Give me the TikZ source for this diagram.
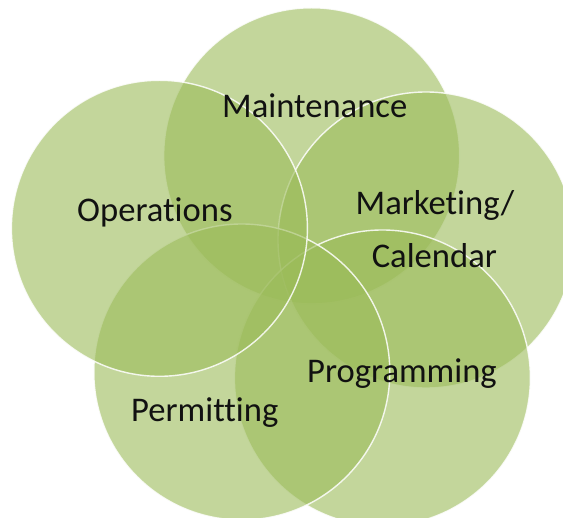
\documentclass[tikz,border=0pt]{standalone}
\usepackage{fontspec}
\setmainfont[Ligatures={NoCommon,NoContextual}]{Carlito}
\definecolor{olive}{HTML}{9BBB59}
\definecolor{txt}{HTML}{111111}
\tikzset{
  venn/.style={circle, minimum size=296pt, inner sep=0pt, fill=olive, fill opacity=0.6, draw=white, draw opacity=0.85, line width=1.4pt},
  lbl/.style={anchor=base west, inner sep=0pt, text=txt, font=\fontsize{34.6}{40}\selectfont}
}
\begin{document}
\begin{tikzpicture}[x=1pt,y=-1pt]
\useasboundingbox (0,0) rectangle (563,518);
\begin{scope}
\clip (0,0) rectangle (563,518);
\node[venn] (maint) at (311.7,155.8) {};
\node[venn] (mark) at (426,240) {};
\node[venn] (prog) at (382.4,378) {};
\node[venn] (perm) at (241.8,372) {};
\node[venn] (oper) at (159.4,228.3) {};
\end{scope}
\node[lbl] (tmaint) at (222,118) {Maintenance};
\node[lbl] (toper) at (77,222) {Operations};
\node[lbl] (tmark) at (355.5,215) {Marketing/};
\node[lbl] (tcal) at (371.6,268) {Calendar};
\node[lbl] (tprog) at (307,383) {Programming};
\node[lbl] (tperm) at (131,422) {Permitting};
\end{tikzpicture}
\end{document}
